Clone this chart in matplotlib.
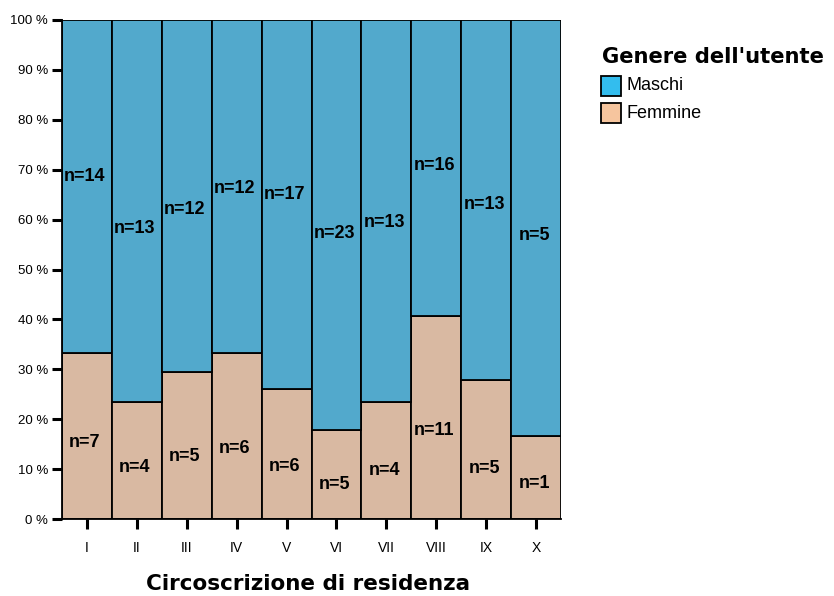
import matplotlib
matplotlib.use("Agg")
import matplotlib.pyplot as plt
from matplotlib.patches import Rectangle
import numpy as np

# Counts per district of residence
circoscrizioni = ["I", "II", "III", "IV", "V", "VI", "VII", "VIII", "IX", "X"]
maschi = [14, 13, 12, 12, 17, 23, 13, 16, 13, 5]
femmine = [7, 4, 5, 6, 6, 5, 4, 11, 5, 1]
y_ticks = [0, 10, 20, 30, 40, 50, 60, 70, 80, 90, 100]

# Vertical nudges (percentage points) of the count labels from segment centres
shift_m = [2.0, -3.5, -2.6, -0.4, 1.9, -1.8, -2.3, 0.5, -0.8, -1.6]
shift_f = [-1.3, -1.4, -2.1, -2.5, -2.6, -2.1, -2.0, -2.6, -3.7, -1.3]

col_m = "#52a9cc"
col_f = "#d9b9a2"
leg_m = "#33bdee"
leg_f = "#f6c59e"

plt.rcParams["font.family"] = ["Liberation Sans", "DejaVu Sans"]

W, H = 834, 596
fig = plt.figure(figsize=(W / 100, H / 100), dpi=100)
ax = fig.add_axes([62 / W, 1 - 519 / H, (561 - 62) / W, (519 - 20) / H])

m = np.array(maschi, dtype=float)
f = np.array(femmine, dtype=float)
tot = m + f
pf = f / tot * 100
pm = m / tot * 100
x = np.arange(len(circoscrizioni))

ax.bar(x, pf, width=1.0, color=col_f, edgecolor="black", linewidth=1.3)
ax.bar(x, pm, bottom=pf, width=1.0, color=col_m, edgecolor="black", linewidth=1.3)

for i in range(len(x)):
    ax.text(x[i] - 0.04, pf[i] / 2 + shift_f[i], f"n={femmine[i]}", ha="center",
            va="center", fontsize=13, fontweight="bold")
    ax.text(x[i] - 0.04, pf[i] + pm[i] / 2 + shift_m[i], f"n={maschi[i]}", ha="center",
            va="center", fontsize=13, fontweight="bold")

ax.set_xlim(-0.5, len(x) - 0.5)
ax.set_ylim(0, 100)
ax.set_yticks(y_ticks)
ax.set_yticklabels([f"{t} %" for t in y_ticks], fontsize=9.5)
ax.set_xticks(x)
ax.set_xticklabels(circoscrizioni, fontsize=10)
ax.tick_params(axis="y", length=7, width=2.2, pad=3)
ax.tick_params(axis="x", length=7, width=2.2, pad=9)
for s in ["top", "right"]:
    ax.spines[s].set_visible(False)
ax.spines["left"].set_linewidth(1.3)
ax.spines["bottom"].set_linewidth(1.3)

fig.text(308 / W, 1 - 584 / H, "Circoscrizione di residenza", ha="center",
         va="center", fontsize=15.5, fontweight="bold", family="DejaVu Sans")

# Legend drawn in figure pixel coordinates
fig.text(602 / W, 1 - 57 / H, "Genere dell'utente", ha="left", va="center",
         fontsize=15.2, fontweight="bold", family="DejaVu Sans")
entries = [("Maschi", leg_m, 86), ("Femmine", leg_f, 113)]
for label, colour, yc in entries:
    fig.add_artist(Rectangle((601 / W, 1 - (yc + 10) / H), 20 / W, 20 / H,
                             transform=fig.transFigure, facecolor=colour,
                             edgecolor="black", linewidth=1.3))
    fig.text(627 / W, 1 - yc / H, label, ha="left", va="center", fontsize=13)

fig.savefig("out.png", dpi=100)
